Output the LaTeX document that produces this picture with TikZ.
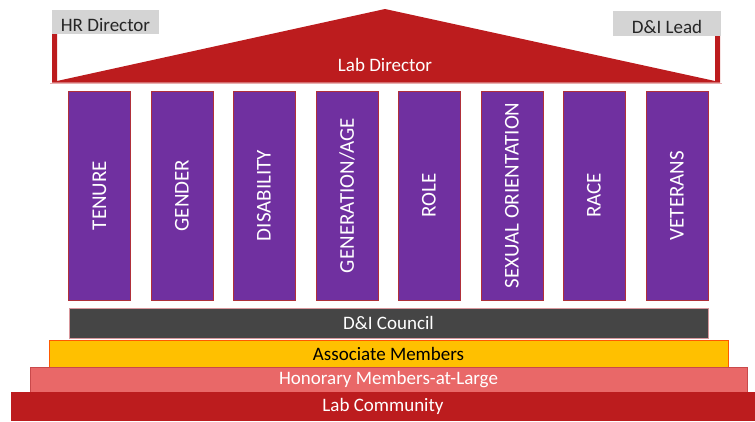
\documentclass[tikz,border=0pt]{standalone}
\usepackage{fontspec}
\setmainfont{Carlito}
\definecolor{roofred}{HTML}{BC1C1E}
\definecolor{pillarpurple}{HTML}{7030A0}
\definecolor{pillaredge}{HTML}{B0303A}
\definecolor{labelgray}{HTML}{D4D4D4}
\definecolor{councilgray}{HTML}{454545}
\definecolor{assocyellow}{HTML}{FFC000}
\definecolor{honorsalmon}{HTML}{E96868}
\begin{document}
\begin{tikzpicture}[x=1pt,y=-1pt,
  pillar/.style={draw=pillaredge,line width=0.7pt,fill=pillarpurple,minimum width=62pt,minimum height=209pt,inner sep=0pt},
  pillartext/.style={text=white,font=\fontsize{21}{24}\selectfont,rotate=90},
  tier/.style={minimum height=#1,inner sep=0pt,font=\fontsize{19}{22}\selectfont},
  rolelabel/.style={fill=labelgray,inner sep=0pt,text height=19pt,text depth=0pt,font=\fontsize{19}{22}\selectfont,text=black!85}]
\useasboundingbox (0,0) rectangle (755,421);

% roof with its two side posts
\fill[roofred] (52,33) -- (57,33) -- (57,81) -- (385,9) -- (715,81) -- (715,36)
  -- (720,36) -- (720,82.5) -- (52,82.5) -- cycle;
\draw[roofred!35,line width=0.6pt] (50,83) -- (722,83);
\node[text=white,font=\fontsize{19}{22}\selectfont] (labdir) at (385,65) {Lab Director};

% role labels on the roof corners
\node[rolelabel,minimum width=107pt,minimum height=24pt] (hr) at (105.5,21.5) {HR Director};
\node[rolelabel,minimum width=108pt,minimum height=25pt] (dil) at (667,23.5) {D\&I Lead};

% pillars
\foreach \cx/\lbl [count=\i] in {99.5/TENURE,182/GENDER,264/DISABILITY,347/{GENERATION/AGE},429/ROLE,512/SEXUAL ORIENTATION,594/RACE,677/VETERANS}{
  \node[pillar] (p\i) at (\cx,195.5) {};
  \node[pillartext] (t\i) at (p\i.center) {\lbl};
}

% foundation tiers
\node[tier=30pt,fill=councilgray,draw=pillaredge!50,line width=0.6pt,minimum width=639pt,text=white] (council) at (388.5,323) {D\&I Council};
\node[tier=27pt,fill=assocyellow,draw=orange!70!red,line width=0.6pt,minimum width=679pt,text=black] (assoc) at (388.5,353.5) {Associate Members};
\node[tier=25pt,fill=honorsalmon,draw=roofred!80,line width=0.6pt,minimum width=717pt,text=white] (honor) at (388.5,379.5) {Honorary Members-at-Large};
\node[tier=29pt,fill=roofred,minimum width=744pt,text=white] (community) at (383,406.5) {Lab Community};
\end{tikzpicture}
\end{document}
